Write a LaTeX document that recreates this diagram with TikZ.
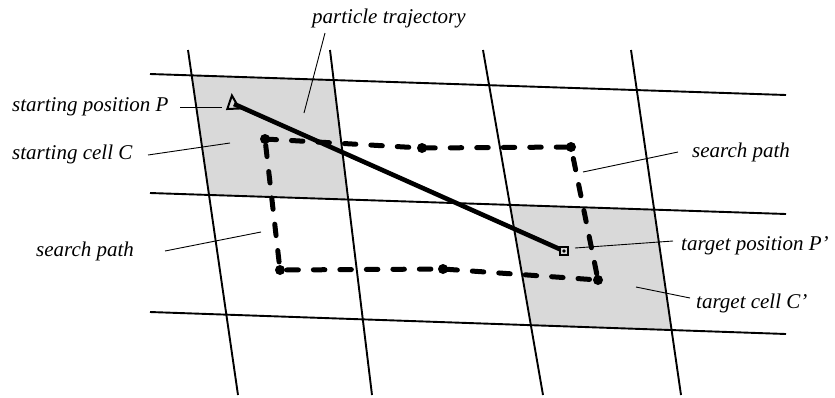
\documentclass[tikz,border=0pt]{standalone}
\usepackage{fontspec}
\setmainfont{Liberation Serif}
\begin{document}
\begin{tikzpicture}[x=1pt,y=-1pt,
  grid/.style={line width=1.9pt},
  lead/.style={line width=0.9pt},
  lbl/.style={anchor=base west,inner sep=0pt,font=\fontsize{21}{25}\selectfont\itshape},
  spath/.style={line width=5pt,dash pattern=on 11.5pt off 15pt,line cap=round,line join=round},
  traj/.style={line width=4.6pt},
  dotmark/.style={circle,fill=black,inner sep=0pt,minimum size=10pt},
  cellfill/.style={fill=gray!30}
]
\useasboundingbox (0,0) rectangle (835,397);
% grid line end points
\coordinate (v1a) at (188,50);  \coordinate (v1b) at (238,395);
\coordinate (v2a) at (330,50);  \coordinate (v2b) at (372,395);
\coordinate (v3a) at (483,50);  \coordinate (v3b) at (543,395);
\coordinate (v4a) at (631,50);  \coordinate (v4b) at (681,395);
\coordinate (h1a) at (150,74);  \coordinate (h1b) at (786,95);
\coordinate (h2a) at (150,193); \coordinate (h2b) at (786,214);
\coordinate (h3a) at (150,312); \coordinate (h3b) at (786,334);
% cell corners
\coordinate (c1) at (intersection of v1a--v1b and h1a--h1b);
\coordinate (c2) at (intersection of v2a--v2b and h1a--h1b);
\coordinate (c3) at (intersection of v2a--v2b and h2a--h2b);
\coordinate (c4) at (intersection of v1a--v1b and h2a--h2b);
\coordinate (d1) at (intersection of v3a--v3b and h2a--h2b);
\coordinate (d2) at (intersection of v4a--v4b and h2a--h2b);
\coordinate (d3) at (intersection of v4a--v4b and h3a--h3b);
\coordinate (d4) at (intersection of v3a--v3b and h3a--h3b);
\fill[cellfill] (c1) -- (c2) -- (c3) -- (c4) -- cycle;
\fill[cellfill] (d1) -- (d2) -- (d3) -- (d4) -- cycle;
% grid
\foreach \l in {v1,v2,v3,v4,h1,h2,h3} \draw[grid] (\l a) -- (\l b);
% search path
\coordinate (sa) at (265,139);
\coordinate (sm1) at (422,148);
\coordinate (sb) at (571,147);
\coordinate (sc) at (598,280);
\coordinate (sm2) at (443,269);
\coordinate (sd) at (280,270);
\draw[spath] (sa) -- (sm1) -- (sb) -- (sc) -- (sm2) -- (sd) -- cycle;
\foreach \p in {sa,sm1,sb,sc,sm2,sd} \node[dotmark] at (\p) {};
% trajectory
\coordinate (P) at (234,104);
\coordinate (P2) at (564,251);
\draw[traj] (P) -- (P2);
\draw[line width=2pt,line join=miter] (227.3,109) -- (231.9,95.5) -- (239.3,108.5) -- cycle;
\node[draw,line width=1.1pt,fill=gray!30,minimum size=8pt,inner sep=0pt] (sq) at (P2) {};
\fill (P2) circle (1.8pt);
% labels
\node[lbl] (tpt) at (312,23) {particle trajectory};
\node[lbl] (tsp) at (12,111) {starting position \textit{P}};
\node[lbl] (tsc) at (12,159) {starting cell \textit{C}};
\node[lbl] (tsl) at (36,256) {search path};
\node[lbl] (tsr) at (692,157) {search path};
\node[lbl] (ttp) at (681,250) {target position P'};
\node[lbl] (ttc) at (696,308) {target cell C'};
% leaders
\coordinate (l1a) at (325,33);  \coordinate (l1b) at (304,113);
\coordinate (l2a) at (180,107); \coordinate (l2b) at (222,107);
\coordinate (l3a) at (148,155); \coordinate (l3b) at (230,143);
\coordinate (l4a) at (165,251); \coordinate (l4b) at (261,232);
\coordinate (l5a) at (583,172); \coordinate (l5b) at (678,152);
\coordinate (l6a) at (575,248); \coordinate (l6b) at (673,241);
\coordinate (l7a) at (636,287); \coordinate (l7b) at (690,298);
\foreach \i in {1,...,7} \draw[lead] (l\i a) -- (l\i b);
\end{tikzpicture}
\end{document}
